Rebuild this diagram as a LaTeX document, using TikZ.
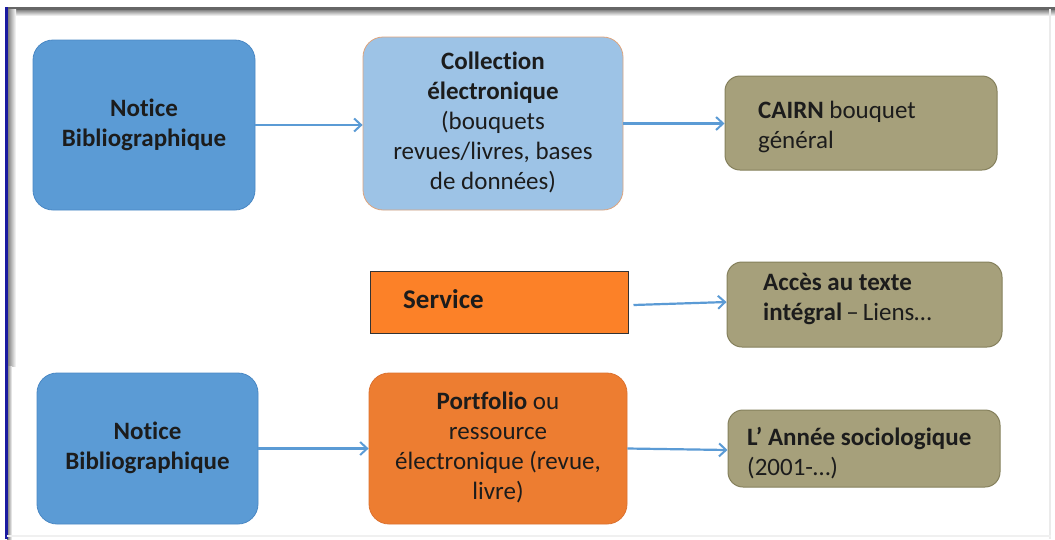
\documentclass[tikz,border=0pt]{standalone}
\usepackage{fontspec}
\setmainfont{Carlito}[Ligatures=NoCommon]
\usetikzlibrary{arrows.meta}

\definecolor{noticeblue}{HTML}{5B9BD5}
\definecolor{noticeedge}{HTML}{4A88C4}
\definecolor{collfill}{HTML}{9DC3E6}
\definecolor{colledge}{HTML}{DDA47E}
\definecolor{khaki}{HTML}{A6A07B}
\definecolor{khakiedge}{HTML}{85805C}
\definecolor{servorange}{HTML}{FC8128}
\definecolor{portorange}{HTML}{ED7D31}
\definecolor{portedge}{HTML}{DC7230}
\definecolor{arrowblue}{HTML}{5B9BD5}
\definecolor{ink}{HTML}{1C1C1C}
\definecolor{framenavy}{HTML}{1A1AA0}

\begin{document}
\begin{tikzpicture}[x=1pt,y=-1pt,
  txt/.style={font=\fontsize{25}{30}\selectfont, text=ink},
  roundbox/.style={rounded corners=20pt, line width=0.8pt, inner sep=0pt},
  blockbox/.style={roundbox, fill=noticeblue, draw=noticeedge,
    minimum width=222pt, minimum height=170pt, txt, font=\fontsize{25}{30}\selectfont\bfseries, align=center},
  collbox/.style={roundbox, fill=collfill, draw=colledge,
    minimum width=260pt, minimum height=173pt, txt, align=center},
  portbox/.style={roundbox, fill=portorange, draw=portedge,
    minimum width=258pt, minimum height=151pt, txt, align=center},
  resbox/.style={roundbox, rounded corners=15pt, fill=khaki, draw=khakiedge, line width=1pt},
  servbox/.style={rectangle, fill=servorange, draw=black!80, line width=1pt, inner sep=0pt},
  boxtext/.style={txt, anchor=north west, inner sep=0pt, align=left},
  flow/.style={draw=arrowblue, line width=2.2pt,
    -{Straight Barb[length=7pt,width=13pt,line width=2pt]}},
]
\useasboundingbox (0,0) rectangle (1055,539);
\fill[white] (0,0) rectangle (1055,539);

% window frame with soft shadow
\shade[top color=black!55, bottom color=white] (5,9) rectangle (1055,16);
\fill[black!60] (5,7) rectangle (1055,9.5);
\shade[left color=black!55, right color=white] (7,9) rectangle (16,366);
\shade[left color=black!55, right color=white] (7,366) rectangle (12,539);
\fill[framenavy] (5,7) rectangle (7.5,539);
\fill[black!8] (1049,9) rectangle (1051,539);
\fill[black!6] (7,535) rectangle (1051,537);

% first row
\node[blockbox] (notice1) at (144,125) {\strut Notice\\\strut Bibliographique};
\node[collbox] (coll) at (493,123.5) {\strut\textbf{Collection}\\\strut\textbf{électronique}\\\strut(bouquets\\\strut revues/livres, bases\\\strut de données)};
\node[resbox, minimum width=272pt, minimum height=94pt] (cairn) at (861,123) {};
\node[boxtext] (cairntxt) at (758,97)
  {\strut\textbf{CAIRN} bouquet\\\strut général};

% second row
\node[servbox, minimum width=258pt, minimum height=62pt] (serv) at (499,302) {};
\node[txt, font=\fontsize{27}{30}\selectfont\bfseries, anchor=base west, inner sep=0pt] (servtxt) at (403,308) {Service};
\node[resbox, minimum width=275pt, minimum height=85pt] (acces) at (864.5,304.5) {};
\node[boxtext] (accestxt) at (763,269)
  {\strut\textbf{Accès au texte}\\\strut\textbf{intégral}\,–\,Liens…};

% third row
\node[blockbox, minimum width=221pt, minimum height=151pt] (notice2) at (147.5,448.5) {\strut Notice\\\strut Bibliographique};
\node[portbox] (port) at (498,448.5) {\strut\textbf{Portfolio} ou\\\strut ressource\\\strut électronique (revue,\\\strut livre)};
\node[resbox, minimum width=272pt, minimum height=77pt] (annee) at (864,448.5) {};
\node[boxtext] (anneetxt) at (747,424)
  {\strut\textbf{L’ Année sociologique}\\\strut(2001-…)};

% connectors
\draw[flow] (notice1.east) -- (coll.west |- notice1.east);
\draw[flow] (coll.east) -- (cairn.west |- coll.east);
\draw[flow] ([xshift=5pt,yshift=-3pt]serv.east) -- ([yshift=2.5pt]acces.west);
\draw[flow] (notice2.east) -- (port.west);
\draw[flow] (port.east) -- ([yshift=-1.5pt]annee.west);
\end{tikzpicture}
\end{document}
